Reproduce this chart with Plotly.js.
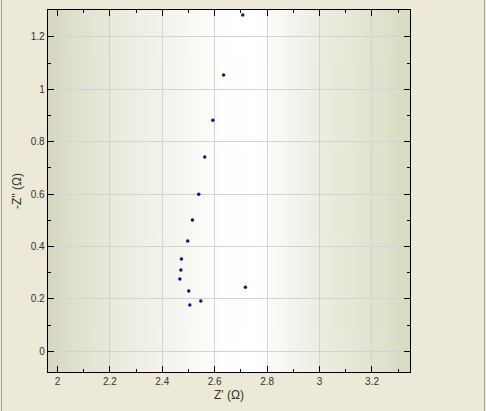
<!DOCTYPE html>
<html>
<head>
<meta charset="utf-8">
<script src="https://cdn.plot.ly/plotly-3.0.1.min.js"></script>
<style>
  html, body { margin: 0; padding: 0; background: #ECE9D8; }
  #wrap { position: relative; width: 486px; height: 411px; }
  #chart { width: 486px; height: 411px; }
  #frame { position: absolute; left: 1px; top: -2px; width: 482px; height: 415px;
           border-left: 1px solid #A9A595; border-right: 1px solid #A9A595; pointer-events: none; }
</style>
</head>
<body>
<div id="wrap">
  <div id="chart"></div>
  <div id="frame"></div>
</div>
<script>
// ---- data (Nyquist plot) ----
const zReal = [2.707, 2.634, 2.593, 2.562, 2.539, 2.515, 2.497, 2.473, 2.471, 2.467, 2.501, 2.505, 2.547, 2.717];
const zImag = [1.284, 1.055, 0.882, 0.742, 0.600, 0.501, 0.421, 0.352, 0.310, 0.276, 0.230, 0.177, 0.192, 0.245];

const xTicks = [2, 2.2, 2.4, 2.6, 2.8, 3, 3.2];
const yTicks = [0, 0.2, 0.4, 0.6, 0.8, 1, 1.2];

// horizontal olive -> white -> olive background for the plot area
function gradientImage(){
  const c = document.createElement("canvas");
  c.width = 362; c.height = 4;
  const g = c.getContext("2d");
  const grad = g.createLinearGradient(0, 0, c.width, 0);
  grad.addColorStop(0.00, "#D6D7C0");
  grad.addColorStop(0.06, "#DEDFCB");
  grad.addColorStop(0.20, "#EBEBDF");
  grad.addColorStop(0.35, "#F5F5F0");
  grad.addColorStop(0.48, "#FEFEFD");
  grad.addColorStop(0.58, "#FFFFFF");
  grad.addColorStop(0.66, "#F5F6F0");
  grad.addColorStop(0.78, "#E9EBDD");
  grad.addColorStop(0.92, "#DFE2CD");
  grad.addColorStop(1.00, "#D7DBC0");
  g.fillStyle = grad;
  g.fillRect(0, 0, c.width, c.height);
  return c.toDataURL("image/png");
}

const font = { family: "Liberation Sans, Arial, sans-serif", size: 10, color: "#333" };

const data = [{
  type: "scatter",
  mode: "markers",
  x: zReal,
  y: zImag,
  marker: { size: 3.5, color: "#12127A" },
  hoverinfo: "x+y"
}];

const axisCommon = {
  showline: true, linecolor: "#000", linewidth: 1.3, mirror: "allticks",
  ticks: "inside", ticklen: 6, tickwidth: 1, tickcolor: "#000",
  showgrid: true, gridcolor: "#D3D3D3", gridwidth: 1,
  zeroline: false, tickmode: "array",
  tickfont: font,
  minor: { ticks: "inside", ticklen: 3, tickwidth: 1, tickcolor: "#000", showgrid: false }
};

const layout = {
  width: 486, height: 411,
  margin: { l: 48, r: 76, t: 10, b: 39 },
  paper_bgcolor: "#ECE9D8",
  plot_bgcolor: "#FFFFFF",
  showlegend: false,
  font: font,
  xaxis: Object.assign({}, axisCommon, {
    range: [1.964, 3.345],
    tickvals: xTicks, ticktext: xTicks.map(String),
    minor: Object.assign({}, axisCommon.minor, { dtick: 0.1, tick0: 0 }),
    title: { text: "Z' (Ω)", font: { family: font.family, size: 12, color: "#333" }, standoff: 4 }
  }),
  yaxis: Object.assign({}, axisCommon, {
    range: [-0.079, 1.303],
    tickvals: yTicks, ticktext: yTicks.map(String),
    minor: Object.assign({}, axisCommon.minor, { dtick: 0.1, tick0: 0 }),
    title: { text: "-Z'' (Ω)", font: { family: font.family, size: 12, color: "#333" }, standoff: 6 }
  }),
  images: [{
    source: gradientImage(),
    xref: "paper", yref: "paper",
    x: 0, y: 1, sizex: 1, sizey: 1,
    xanchor: "left", yanchor: "top",
    sizing: "stretch", layer: "below"
  }]
};

Plotly.newPlot("chart", data, layout, { displayModeBar: false, staticPlot: true });
</script>
</body>
</html>
